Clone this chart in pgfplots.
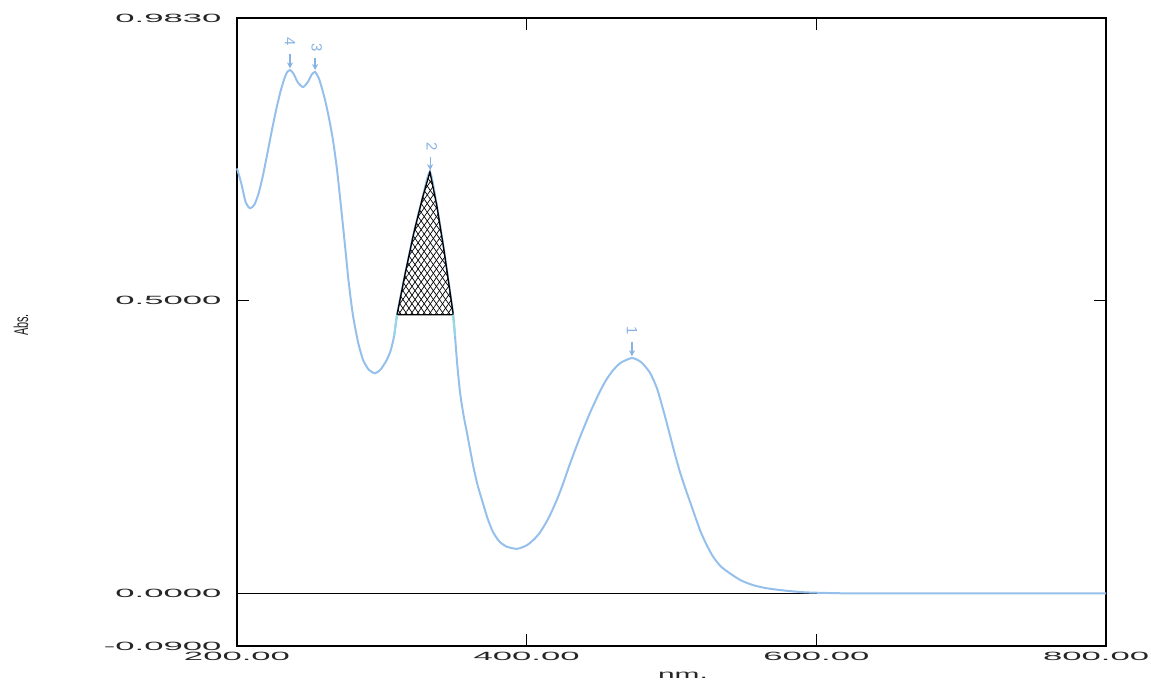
\documentclass[border=0pt]{standalone}
\usepackage{fontspec}
\setmainfont{Liberation Sans}
\usepackage{pgfplots}
\pgfplotsset{compat=1.18}
\usetikzlibrary{patterns.meta,arrows.meta}
\definecolor{curveblue}{RGB}{150,192,236}
\definecolor{lblblue}{RGB}{135,178,228}
\definecolor{edgecyan}{RGB}{150,215,230}

\pgfplotstableread{
nm val
200 0.726
203 0.700
206 0.668
209 0.658
212 0.664
215 0.684
218 0.715
221 0.752
224 0.790
227 0.826
230 0.857
232.5 0.878
234.5 0.890
236.6 0.894
239 0.888
242 0.873
245.6 0.865
249 0.874
251.5 0.886
253.9 0.891
256.5 0.880
258.5 0.864
260.8 0.843
263.5 0.812
266.3 0.774
269 0.725
271.5 0.668
274.5 0.596
277 0.534
280 0.476
283.5 0.430
287 0.399
291 0.382
295.3 0.376
299 0.382
303 0.397
306 0.414
308.5 0.440
310.5 0.476
316 0.545
322 0.615
328 0.675
333.2 0.720
338 0.662
343 0.585
349.1 0.480
350.5 0.440
352 0.393
354 0.343
356.5 0.303
358.8 0.274
362.9 0.220
366 0.186
369.2 0.159
373 0.128
376.7 0.105
381 0.089
386 0.080
393.3 0.076
400 0.082
405 0.092
409.2 0.104
415 0.128
420.9 0.160
425.5 0.190
430 0.222
437 0.268
444 0.310
450.6 0.345
455 0.365
459.6 0.381
465 0.394
472.7 0.402
479 0.395
485.1 0.377
490 0.350
494 0.316
498 0.279
502 0.241
506 0.206
510 0.176
513 0.155
516.5 0.130
520 0.106
524 0.084
528.6 0.063
534 0.046
540.4 0.034
548 0.022
556.3 0.014
565 0.009
577 0.005
590 0.002
600 0.001
620 0.000
650 0.000
700 0.000
750 0.000
800 0.000
}\spectrum

\pgfplotstableread{
nm val
310.5 0.476
316 0.545
322 0.615
328 0.675
333.2 0.720
338 0.662
343 0.585
349.1 0.480
349.1 0.476
}\hatched

\begin{document}
\begin{tikzpicture}[x=1bp,y=1bp]
\useasboundingbox (0,0) rectangle (1151,683);
\begin{axis}[
  at={(237bp,37bp)}, anchor=south west,
  scale only axis, width=869bp, height=628bp,
  xmin=200, xmax=800, ymin=-0.09, ymax=0.983,
  axis line style={black, line width=1.4pt},
  xtick={200,400,600},
  xticklabels={200.00,400.00,600.00},
  extra x ticks={800},
  extra x tick labels={800.00},
  extra x tick style={xticklabel style={xshift=-3.4bp}},
  ytick={-0.09,0,0.5,0.983},
  yticklabels={-0.0900,0.0000,0.5000,0.9830},
  tick style={black, line width=1pt},
  major tick length=12bp,
  tick align=inside,
  xtick pos=both, ytick pos=both,
  xticklabel pos=lower, yticklabel pos=left,
  xticklabel style={font=\fontsize{12}{12}\selectfont, text=black!85, inner sep=0pt, anchor=north, yshift=-6bp, xscale=2.9},
  yticklabel style={font=\fontsize{12}{12}\selectfont, text=black!85, inner sep=0pt, anchor=east, xshift=-15bp, xscale=2.9},
  clip=false,
]
\addplot[black, line width=1pt] coordinates {(200,0) (800,0)};
\addplot[curveblue, line width=2pt, smooth, tension=0.4] table[x=nm, y=val] {\spectrum};
\addplot[draw=none, pattern={Lines[angle=55,distance=5bp,line width=0.7bp]}] table[x=nm, y=val] {\hatched} -- cycle;
\addplot[draw=black, line width=1.3pt, pattern={Lines[angle=-55,distance=5bp,line width=0.7bp]}] table[x=nm, y=val] {\hatched} -- cycle;
\addplot[edgecyan, line width=2pt] coordinates {(308.5,0.440) (310.5,0.476)};
\addplot[edgecyan, line width=2pt] coordinates {(349.1,0.476) (350.5,0.440)};
% peak annotations
\node[lblblue, rotate=-90, font=\fontsize{15}{15}\selectfont] at (axis cs:236.6,0.942) {4};
\draw[lblblue, line width=1.2pt, -{Stealth[length=6bp,width=6bp]}] (axis cs:236.6,0.922) -- (axis cs:236.6,0.897);
\node[lblblue, rotate=-90, font=\fontsize{15}{15}\selectfont] at (axis cs:255,0.932) {3};
\draw[lblblue, line width=1.2pt, -{Stealth[length=6bp,width=6bp]}] (axis cs:253.9,0.914) -- (axis cs:253.9,0.894);
\node[lblblue, rotate=-90, font=\fontsize{15}{15}\selectfont] at (axis cs:334.6,0.764) {2};
\draw[lblblue, line width=1.2pt, -{Stealth[length=6bp,width=6bp]}] (axis cs:333.4,0.745) -- (axis cs:333.4,0.723);
\node[lblblue, rotate=-90, font=\fontsize{15}{15}\selectfont] at (axis cs:472.7,0.448) {1};
\draw[lblblue, line width=1.2pt, -{Stealth[length=6bp,width=6bp]}] (axis cs:472.7,0.430) -- (axis cs:472.7,0.405);
\end{axis}
\node[rotate=90, xscale=0.55, font=\fontsize{20}{20}\selectfont, text=black!85, inner sep=0pt] at (21,358) {Abs.};
\node[anchor=north, font=\fontsize{12}{12}\selectfont, text=black!85, inner sep=0pt, xscale=2.5] at (683,11) {nm.};
\end{tikzpicture}
\end{document}
